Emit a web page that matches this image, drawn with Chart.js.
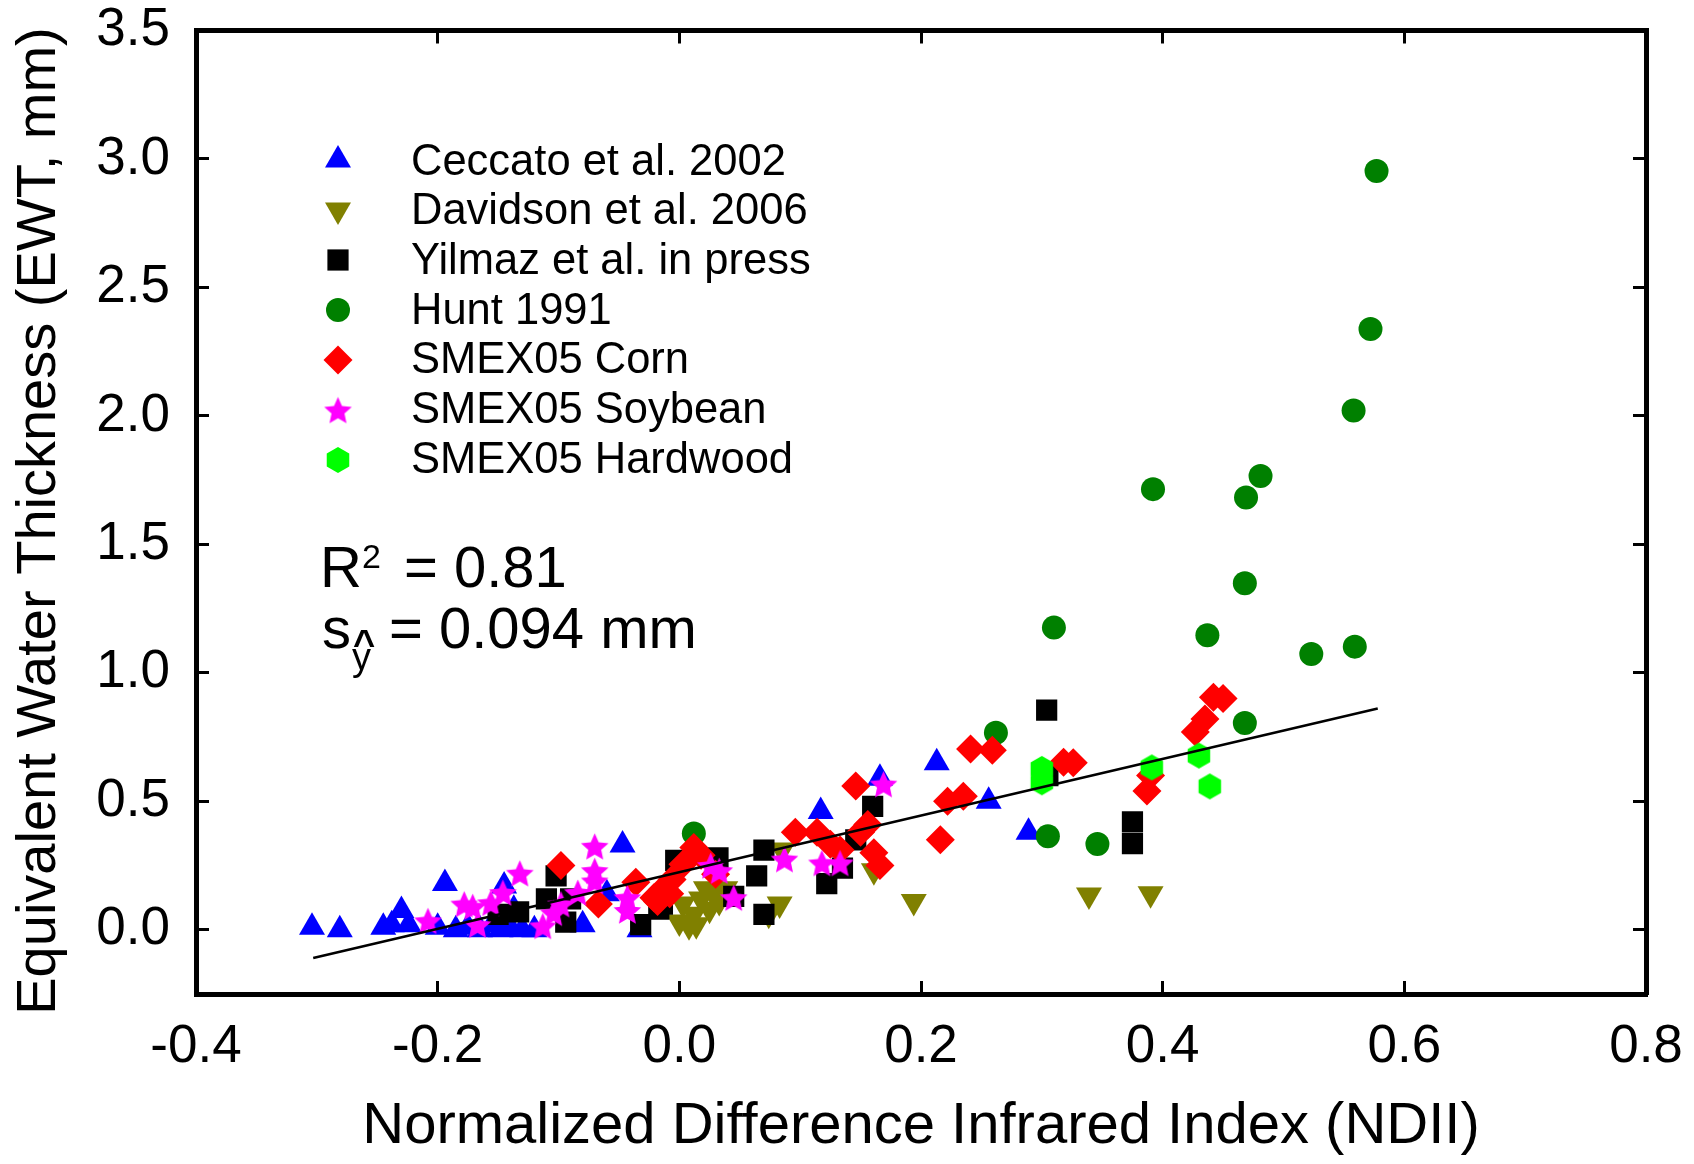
<!DOCTYPE html>
<html>
<head>
<meta charset="utf-8">
<script src="https://cdn.jsdelivr.net/npm/chart.js@4.4.1/dist/chart.umd.min.js"></script>
<style>
  html, body { margin: 0; padding: 0; background: #fff; }
  #wrap { width: 1694px; height: 1164px; position: relative; }
</style>
</head>
<body>
<div id="wrap"><canvas id="ewt-chart"></canvas></div>
<script>
const FONT = "'Liberation Sans', Arial, sans-serif";

// axis ticks
const xTicks = [-0.4, -0.2, 0.0, 0.2, 0.4, 0.6, 0.8];
const yTicks = [0.0, 0.5, 1.0, 1.5, 2.0, 2.5, 3.0, 3.5];

const xTitle = 'Normalized Difference Infrared Index (NDII)';
const yTitle = 'Equivalent Water Thickness (EWT, mm)';

const seriesNames = [
  'Ceccato et al. 2002',
  'Davidson et al. 2006',
  'Yilmaz et al. in press',
  'Hunt 1991',
  'SMEX05 Corn',
  'SMEX05 Soybean',
  'SMEX05 Hardwood',
];

// NDII (x) and EWT in mm (y)
const ceccatoX = [-0.304, -0.281, -0.245, -0.238, -0.230, -0.224, -0.194, -0.200, -0.185, -0.175, -0.165, -0.155, -0.148, -0.145, -0.140, -0.137, -0.130, -0.120, -0.080, -0.060, -0.047, -0.033, 0.117, 0.166, 0.213, 0.256, 0.289];
const ceccatoY = [0.01, 0.00, 0.01, 0.02, 0.075, 0.02, 0.18, 0.01, 0.00, 0.01, 0.00, 0.02, 0.00, 0.17, 0.01, 0.08, 0.00, 0.00, 0.02, 0.14, 0.33, 0.00, 0.46, 0.59, 0.65, 0.50, 0.38];

const davidsonX = [0.000, 0.003, 0.008, 0.014, 0.018, 0.022, 0.025, 0.028, 0.033, 0.012, 0.038, 0.074, 0.083, 0.085, 0.161, 0.194, 0.339, 0.390];
const davidsonY = [0.03, 0.10, 0.016, 0.02, 0.12, 0.16, 0.08, 0.14, 0.11, 0.06, 0.16, 0.06, 0.10, 0.31, 0.23, 0.11, 0.135, 0.14];

const yilmazX = [-0.150, -0.133, -0.110, -0.102, -0.094, -0.090, -0.032, -0.017, -0.014, -0.003, 0.032, 0.045, 0.064, 0.070, 0.070, 0.122, 0.135, 0.146, 0.160, 0.305, 0.304, 0.375, 0.375];
const yilmazY = [0.06, 0.07, 0.12, 0.21, 0.03, 0.12, 0.02, 0.08, 0.10, 0.27, 0.28, 0.13, 0.21, 0.31, 0.06, 0.18, 0.24, 0.35, 0.48, 0.60, 0.855, 0.42, 0.335];

const huntX = [0.577, 0.572, 0.558, 0.481, 0.469, 0.392, 0.468, 0.437, 0.310, 0.523, 0.559, 0.468, 0.262, 0.305, 0.346, 0.012];
const huntY = [2.953, 2.338, 2.021, 1.766, 1.682, 1.715, 1.349, 1.146, 1.176, 1.073, 1.102, 0.805, 0.767, 0.364, 0.334, 0.375];

const cornX = [-0.098, -0.067, -0.036, -0.021, -0.018, -0.014, -0.008, -0.006, 0.003, 0.012, 0.018, 0.030, 0.096, 0.114, 0.125, 0.133, 0.146, 0.150, 0.156, 0.161, 0.166, 0.216, 0.222, 0.235, 0.241, 0.259, 0.318, 0.326, 0.387, 0.390, 0.427, 0.435, 0.442, 0.450];
const cornY = [0.25, 0.10, 0.185, 0.125, 0.11, 0.157, 0.14, 0.196, 0.255, 0.32, 0.29, 0.216, 0.38, 0.38, 0.333, 0.31, 0.56, 0.38, 0.41, 0.30, 0.25, 0.35, 0.50, 0.52, 0.704, 0.699, 0.652, 0.65, 0.54, 0.60, 0.77, 0.82, 0.905, 0.90];

const soybeanX = [-0.208, -0.178, -0.171, -0.167, -0.156, -0.146, -0.132, -0.113, -0.104, -0.098, -0.084, -0.070, -0.070, -0.070, -0.043, -0.043, 0.026, 0.033, 0.045, 0.087, 0.118, 0.133, 0.169];
const soybeanY = [0.035, 0.10, 0.09, 0.02, 0.105, 0.145, 0.22, 0.015, 0.066, 0.10, 0.145, 0.325, 0.23, 0.19, 0.125, 0.075, 0.25, 0.23, 0.125, 0.275, 0.26, 0.26, 0.567];

const hardwoodX = [0.300, 0.300, 0.391, 0.430, 0.439];
const hardwoodY = [0.626, 0.574, 0.632, 0.678, 0.558];

// regression line end points
const fitX = [-0.303, 0.578];
const fitY = [-0.110, 0.861];

const statR2 = '0.81';
const statSy = '0.094 mm';

function points(xs, ys) {
  return xs.map((x, i) => ({ x, y: ys[i] }));
}

function makeStar(outer, inner, color) {
  const c = document.createElement('canvas');
  const s = Math.ceil(outer * 2) + 2;
  c.width = s; c.height = s;
  const g = c.getContext('2d');
  g.fillStyle = color;
  g.beginPath();
  for (let i = 0; i < 10; i++) {
    const r = i % 2 ? inner : outer;
    const a = -Math.PI / 2 + i * Math.PI / 5;
    g.lineTo(s / 2 + r * Math.cos(a), s / 2 + 1.5 + r * Math.sin(a));
  }
  g.closePath();
  g.fill();
  return c;
}

function makeHexagon(r, color) {
  const c = document.createElement('canvas');
  const s = Math.ceil(r * 2) + 2;
  c.width = s; c.height = s;
  const g = c.getContext('2d');
  g.fillStyle = color;
  g.beginPath();
  for (let i = 0; i < 6; i++) {
    const a = -Math.PI / 2 + i * Math.PI / 3;
    g.lineTo(s / 2 + r * Math.cos(a), s / 2 + r * Math.sin(a));
  }
  g.closePath();
  g.fill();
  return c;
}

const starImg = makeStar(14.5, 6.8, '#ff00ff');
const hexImg = makeHexagon(13, '#00ff00');

const seriesStyles = [
  { xs: ceccatoX, ys: ceccatoY, color: '#0000ff', style: 'triangle', radius: 15, rotation: 0 },
  { xs: davidsonX, ys: davidsonY, color: '#808000', style: 'triangle', radius: 15, rotation: 180 },
  { xs: yilmazX, ys: yilmazY, color: '#000000', style: 'rect', radius: 15, rotation: 0 },
  { xs: huntX, ys: huntY, color: '#008000', style: 'circle', radius: 12, rotation: 0 },
  { xs: cornX, ys: cornY, color: '#ff0000', style: 'rectRot', radius: 14.5, rotation: 0 },
  { xs: soybeanX, ys: soybeanY, color: '#ff00ff', style: starImg, radius: 13, rotation: 0 },
  { xs: hardwoodX, ys: hardwoodY, color: '#00ff00', style: hexImg, radius: 12, rotation: 0 },
];

const datasets = seriesStyles.map((s, i) => ({
  label: seriesNames[i],
  data: points(s.xs, s.ys),
  pointStyle: s.style,
  pointRadius: s.radius,
  pointRotation: s.rotation,
  pointBackgroundColor: s.color,
  pointBorderWidth: 0,
  borderColor: s.color,
  showLine: false,
  order: 10 - i,
}));

datasets.push({
  label: 'fit',
  data: points(fitX, fitY),
  showLine: true,
  borderColor: '#000',
  borderWidth: 2.5,
  pointRadius: 0,
  order: 0,
});

const insideLegend = {
  id: 'insideLegend',
  afterDatasetsDraw(chart) {
    const { ctx } = chart;
    ctx.save();
    seriesStyles.forEach((s, i) => {
      const y = 160 + i * 50;
      ctx.fillStyle = s.color;
      Chart.helpers.drawPoint(ctx, {
        pointStyle: s.style, radius: s.radius, rotation: s.rotation, borderWidth: 0,
      }, 338, y);
      ctx.fillStyle = '#000';
      ctx.font = `43.5px ${FONT}`;
      ctx.textAlign = 'left';
      ctx.textBaseline = 'alphabetic';
      ctx.fillText(seriesNames[i], 411, 174.5 + i * 49.7);
    });
    ctx.restore();
  },
};

const statsText = {
  id: 'statsText',
  afterDatasetsDraw(chart) {
    const { ctx } = chart;
    ctx.save();
    ctx.fillStyle = '#000';
    ctx.textAlign = 'left';
    ctx.textBaseline = 'alphabetic';
    ctx.font = `58px ${FONT}`;
    ctx.fillText('R', 320, 587);
    ctx.font = `34px ${FONT}`;
    ctx.fillText('2', 362, 568);
    ctx.font = `58px ${FONT}`;
    ctx.fillText('= ' + statR2, 404, 587);

    ctx.fillText('s', 322, 648);
    ctx.font = `38px ${FONT}`;
    ctx.fillText('y', 352, 670);
    ctx.font = `bold 38px ${FONT}`;
    ctx.fillText('^', 353, 657);
    ctx.font = `58px ${FONT}`;
    ctx.fillText('= ' + statSy, 389, 648);

    // y title sits a little below the centre of the axis in the figure
    ctx.translate(39.5, 521);
    ctx.rotate(-Math.PI / 2);
    ctx.textAlign = 'center';
    ctx.textBaseline = 'middle';
    ctx.font = `56px ${FONT}`;
    ctx.fillText(yTitle, 0, 0);
    ctx.restore();
  },
};

// keep the plot box where the figure has it: no extra room for edge labels
function fixBox(size) {
  return (s) => {
    if (s.isHorizontal()) s.height = size; else s.width = size;
    s.paddingTop = 0; s.paddingBottom = 0; s.paddingLeft = 0; s.paddingRight = 0;
  };
}

const axisLine = { width: 5, color: '#000' };
const tickMarks = { drawOnChartArea: false, tickLength: -13, tickWidth: 3, tickColor: '#000' };

new Chart(document.getElementById('ewt-chart').getContext('2d'), {
  type: 'scatter',
  data: { datasets },
  options: {
    responsive: true,
    maintainAspectRatio: false,
    animation: false,
    events: [],
    layout: { padding: 0 },
    plugins: {
      legend: { display: false },
      tooltip: { enabled: false },
    },
    scales: {
      x: {
        type: 'linear',
        position: 'bottom',
        min: -0.4,
        max: 0.8,
        afterBuildTicks: (s) => { s.ticks = xTicks.map((v) => ({ value: v })); },
        afterFit: fixBox(170),
        ticks: {
          callback: (v) => Number(v).toFixed(1),
          font: { family: FONT, size: 53 },
          color: '#000',
          padding: 35,
          maxRotation: 0,
          autoSkip: false,
        },
        grid: tickMarks,
        border: axisLine,
        title: {
          display: true,
          text: xTitle,
          font: { family: FONT, size: 58 },
          color: '#000',
          padding: { top: 0, bottom: 2 },
        },
      },
      y: {
        type: 'linear',
        position: 'left',
        min: -0.25,
        max: 3.5,
        afterBuildTicks: (s) => { s.ticks = yTicks.map((v) => ({ value: v })); },
        afterFit: fixBox(196),
        ticks: {
          callback: (v) => Number(v).toFixed(1),
          font: { family: FONT, size: 53, lineHeight: 1 },
          color: '#000',
          padding: 39,
        },
        grid: tickMarks,
        border: axisLine,
      },
      x2: {
        type: 'linear',
        position: 'top',
        min: -0.4,
        max: 0.8,
        afterBuildTicks: (s) => { s.ticks = xTicks.map((v) => ({ value: v })); },
        afterFit: fixBox(30.5),
        ticks: { display: false },
        grid: tickMarks,
        border: axisLine,
      },
      y2: {
        type: 'linear',
        position: 'right',
        min: -0.25,
        max: 3.5,
        afterBuildTicks: (s) => { s.ticks = yTicks.map((v) => ({ value: v })); },
        afterFit: fixBox(48),
        ticks: { display: false },
        grid: tickMarks,
        border: axisLine,
      },
    },
  },
  plugins: [insideLegend, statsText],
});
</script>
</body>
</html>
